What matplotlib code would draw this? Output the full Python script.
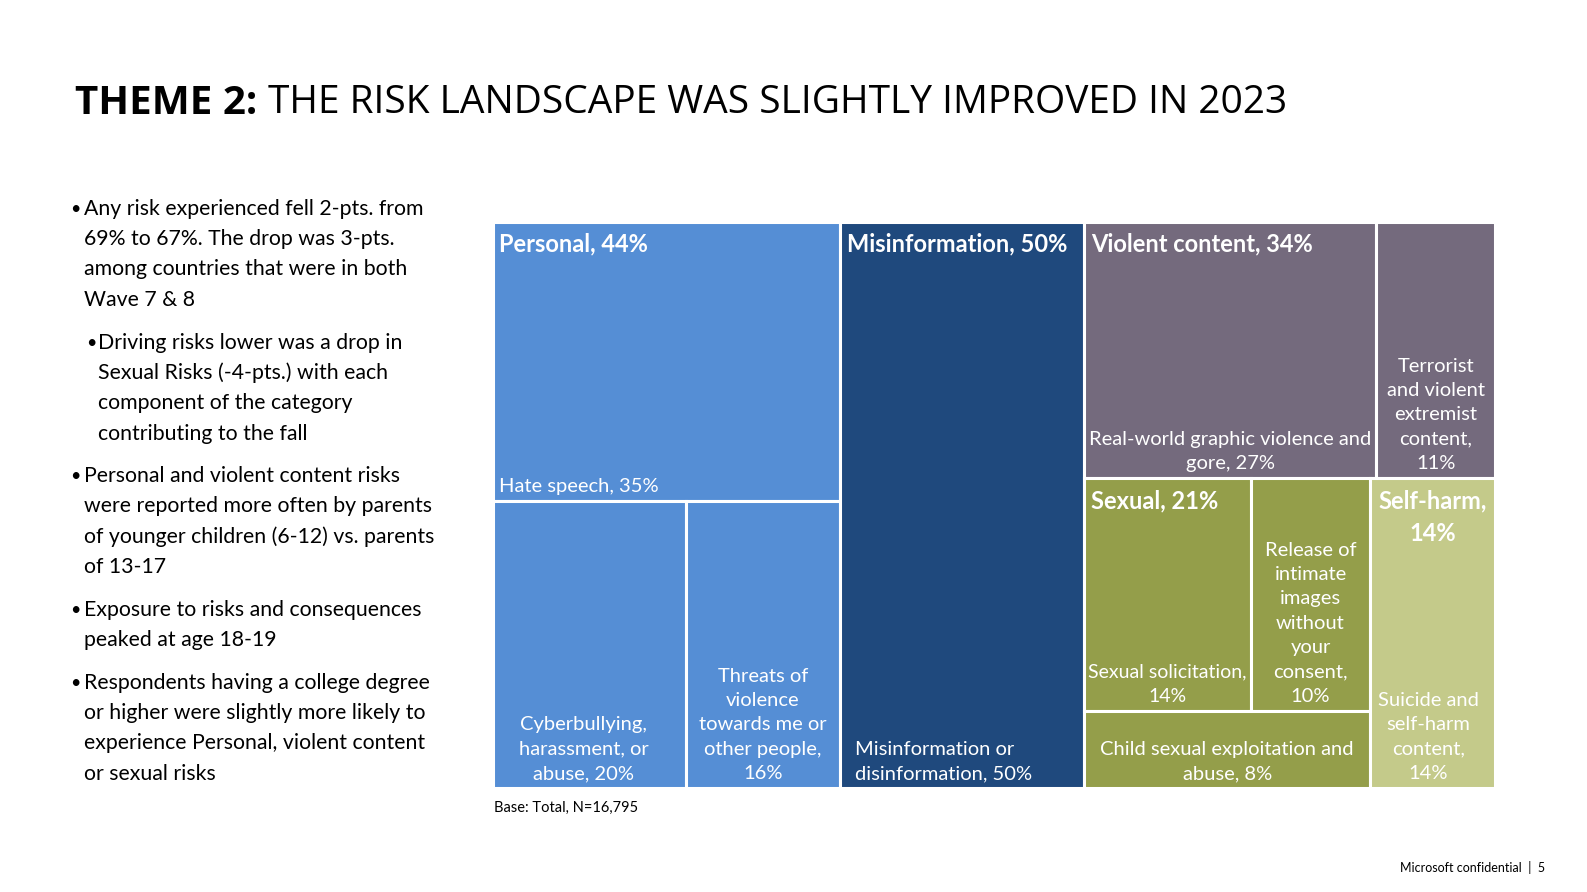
import matplotlib
matplotlib.use("Agg")
import matplotlib.pyplot as plt
from matplotlib.patches import Rectangle

groups = ["Personal", "Misinformation", "Violent content", "Sexual", "Self-harm"]
group_pct = [44, 50, 34, 21, 14]
personal_items = ["Hate speech", "Cyberbullying,\nharassment, or\nabuse", "Threats of\nviolence\ntowards me or\nother people,"]
personal_vals = [35, 20, 16]
misinfo_items = ["Misinformation or\ndisinformation"]
misinfo_vals = [50]
violent_items = ["Real-world graphic violence and\ngore,", "Terrorist\nand violent\nextremist\ncontent,"]
violent_vals = [27, 11]
sexual_items = ["Sexual solicitation,\n", "Release of\nintimate\nimages\nwithout\nyour\nconsent,", "Child sexual exploitation and\nabuse,"]
sexual_vals = [14, 10, 8]
selfharm_items = ["Suicide and\nself-harm\ncontent,"]
selfharm_vals = [14]

colors = ["#558ed5", "#1f497d", "#746a7d", "#949e4a", "#c4ca8a"]
FONT = "Lato"

fig = plt.figure(figsize=(15.87, 8.92), dpi=100)
fig.patch.set_facecolor("white")
L, R, T, B = 493/1587, 1495/1587, 1-222/892, 1-788/892
ax = fig.add_axes([L, B, R-L, T-B])
ax.set_xlim(0, 1); ax.set_ylim(1, 0); ax.axis("off")

total = sum(personal_vals)+sum(misinfo_vals)+sum(violent_vals)+sum(sexual_vals)+sum(selfharm_vals)

def rect(x, y, w, h, c):
    ax.add_patch(Rectangle((x, y), w, h, facecolor=c, edgecolor="white", lw=2.2))

def txt(x, y, s, ha="center", va="bottom", bold=False, size=14.5):
    ax.text(x, y, s, ha=ha, va=va, color="white", fontsize=size, family=FONT,
            fontweight="bold" if bold else "normal", linespacing=1.52)

px = 1/1002; py = 1/566
HS = 17
# Personal column
wP = sum(personal_vals)/total
hH = personal_vals[0]/sum(personal_vals)
rect(0, 0, wP, hH, colors[0])
wC = wP*personal_vals[1]/(personal_vals[1]+personal_vals[2])
rect(0, hH, wC, 1-hH, colors[0])
rect(wC, hH, wP-wC, 1-hH, colors[0])
txt(6*px, 10*py, f"{groups[0]}, {group_pct[0]}%", ha="left", va="top", bold=True, size=HS)
txt(6*px, hH-6*py, f"{personal_items[0]}, {personal_vals[0]}%", ha="left")
txt(wC/2-6*px, 1-6*py, f"{personal_items[1]}, {personal_vals[1]}%")
txt(wC+(wP-wC)/2, 1-6*py, f"{personal_items[2]}\n{personal_vals[2]}%")
# Misinformation
wM = sum(misinfo_vals)/total
rect(wP, 0, wM, 1, colors[1])
txt(wP+7*px, 10*py, f"{groups[1]}, {group_pct[1]}%", ha="left", va="top", bold=True, size=HS)
txt(wP+15*px, 1-6*py, f"{misinfo_items[0]}, {misinfo_vals[0]}%", ha="left")
# Right column
x0 = wP+wM; wR = 1-x0
rest = sum(violent_vals)+sum(sexual_vals)+sum(selfharm_vals)
hV = sum(violent_vals)/rest
wRW = wR*violent_vals[0]/sum(violent_vals)
rect(x0, 0, wRW, hV, colors[2]); rect(x0+wRW, 0, wR-wRW, hV, colors[2])
txt(x0+7*px, 10*py, f"{groups[2]}, {group_pct[2]}%", ha="left", va="top", bold=True, size=HS)
txt(x0+wRW/2, hV-6*py, f"{violent_items[0]} {violent_vals[0]}%")
txt(x0+wRW+(wR-wRW)/2, hV-6*py, f"{violent_items[1]}\n{violent_vals[1]}%")
wS = wR*sum(sexual_vals)/(sum(sexual_vals)+sum(selfharm_vals))
hS1 = (1-hV)*(sexual_vals[0]+sexual_vals[1])/sum(sexual_vals)
wS1 = wS*sexual_vals[0]/(sexual_vals[0]+sexual_vals[1])
rect(x0, hV, wS1, hS1, colors[3]); rect(x0+wS1, hV, wS-wS1, hS1, colors[3])
rect(x0, hV+hS1, wS, 1-hV-hS1, colors[3])
txt(x0+7*px, hV+11*py, f"{groups[3]}, {group_pct[3]}%", ha="left", va="top", bold=True, size=HS)
txt(x0+wS1/2, hV+hS1-6*py, f"{sexual_items[0]}{sexual_vals[0]}%", size=14)
txt(x0+wS1+(wS-wS1)/2, hV+hS1-6*py, f"{sexual_items[1]}\n{sexual_vals[1]}%")
txt(x0+wS/2, 1-6*py, f"{sexual_items[2]} {sexual_vals[2]}%")
rect(x0+wS, hV, wR-wS, 1-hV, colors[4])
txt(x0+wS+(wR-wS)/2, hV+11*py, f"{groups[4]},\n{group_pct[4]}%", va="top", bold=True, size=HS)
txt(x0+wS+(wR-wS)/2-4*px, 1-6*py, f"{selfharm_items[0]}\n{selfharm_vals[0]}%")

# Title and text
fig.text(75/1587, 1-103/892, "THEME 2:", fontsize=29, fontweight="bold", family="Open Sans", va="center", ha="left")
fig.text(268/1587, 1-103/892, "THE RISK LANDSCAPE WAS SLIGHTLY IMPROVED IN 2023", fontsize=28, family="Open Sans", va="center", ha="left")

bullets = [
    (70, 84, 209, ["Any risk experienced fell 2-pts. from", "69% to 67%. The drop was 3-pts.", "among countries that were in both", "Wave 7 & 8"]),
    (86, 98, 343, ["Driving risks lower was a drop in", "Sexual Risks (-4-pts.) with each", "component of the category", "contributing to the fall"]),
    (70, 84, 476, ["Personal and violent content risks", "were reported more often by parents", "of younger children (6-12) vs. parents", "of 13-17"]),
    (70, 84, 610, ["Exposure to risks and consequences", "peaked at age 18-19"]),
    (70, 84, 683, ["Respondents having a college degree", "or higher were slightly more likely to", "experience Personal, violent content", "or sexual risks"]),
]
for bx, tx, ty, lines in bullets:
    fig.text(bx/1587, 1-ty/892, "•", fontsize=13, family=FONT, va="center")
    for i, ln in enumerate(lines):
        fig.text(tx/1587, 1-(ty+i*30.2)/892, ln, fontsize=15.3, family=FONT, va="center")

fig.text(494/1587, 1-808/892, "Base: Total, N=16,795", fontsize=10.5, family=FONT, va="center")
fig.text(1545/1587, 1-868/892, "Microsoft confidential  |  5", fontsize=9, family=FONT, va="center", ha="right")

fig.savefig("out.png", dpi=100)
